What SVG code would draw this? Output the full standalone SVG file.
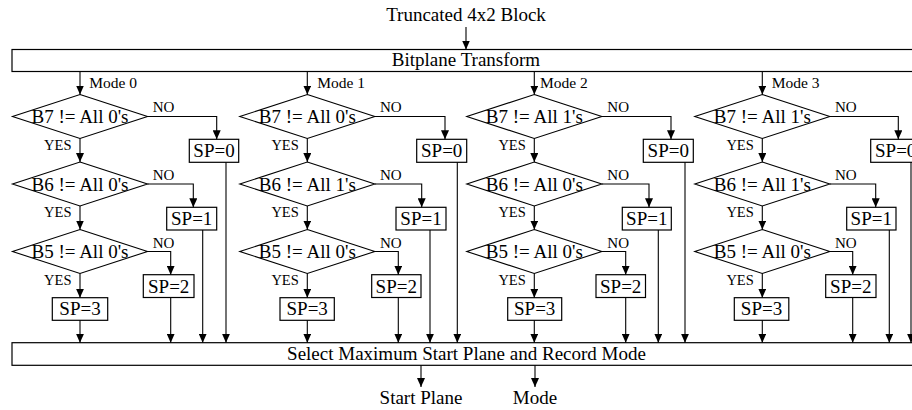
<svg xmlns="http://www.w3.org/2000/svg" width="912" height="410" viewBox="0 0 912 410">
  <defs>
    <marker id="arrow" markerUnits="userSpaceOnUse" markerWidth="9" markerHeight="8" viewBox="0 0 9 8" refX="9" refY="4" orient="auto">
      <path d="M0,0 L9,4 L0,8 z" fill="#000"/>
    </marker>
    <style>
      .box { fill: #fff; stroke: #000; stroke-width: 1.2; }
      .dia { fill: #fff; stroke: #000; stroke-width: 1.1; }
      .ln { fill: none; stroke: #000; stroke-width: 1.1; marker-end: url(#arrow); }
      text { font-family: "Liberation Serif", "Times New Roman", serif; fill: #000; }
      .big { font-size: 19px; text-anchor: middle; }
      .mode { font-size: 15.5px; }
      .no { font-size: 15px; }
      .yes { font-size: 14.5px; text-anchor: end; }
    </style>
  </defs>
  <rect width="912" height="410" fill="#fff"/>

  <!-- input and output labels -->
  <text class="big" x="466" y="21">Truncated 4x2 Block</text>
  <text class="big" x="421" y="404">Start Plane</text>
  <text class="big" x="535" y="404">Mode</text>

  <!-- shared stages -->
  <g id="bitplane-transform">
    <rect class="box" x="12" y="49.5" width="910" height="22"/>
    <text class="big" x="466" y="65.5">Bitplane Transform</text>
  </g>
  <g id="select-max">
    <rect class="box" x="12" y="342.7" width="910" height="22.6"/>
    <text class="big" x="466.5" y="359.5">Select Maximum Start Plane and Record Mode</text>
  </g>

  <!-- Mode 0 column -->
  <g id="m0-b7"><polygon class="dia" points="80,94.5 147.5,116.5 80,138.5 12.5,116.5"/><text class="big" x="80" y="123">B7 != All 0's</text></g>
  <g id="m0-b6"><polygon class="dia" points="80,162 147.5,184 80,206 12.5,184"/><text class="big" x="80" y="190.5">B6 != All 0's</text></g>
  <g id="m0-b5"><polygon class="dia" points="80,229.5 147.5,251.5 80,273.5 12.5,251.5"/><text class="big" x="80" y="258">B5 != All 0's</text></g>
  <g id="m0-sp0"><rect class="box" x="189.3" y="139.3" width="49.4" height="23"/><text class="big" x="214" y="157.3">SP=0</text></g>
  <g id="m0-sp1"><rect class="box" x="166.7" y="207.3" width="50" height="22.7"/><text class="big" x="191.7" y="225">SP=1</text></g>
  <g id="m0-sp2"><rect class="box" x="143.3" y="274.7" width="50.7" height="22.8"/><text class="big" x="168.7" y="292.5">SP=2</text></g>
  <g id="m0-sp3"><rect class="box" x="52.3" y="297.7" width="55.4" height="22.6"/><text class="big" x="80" y="315.3">SP=3</text></g>

  <!-- Mode 1 column -->
  <g id="m1-b7"><polygon class="dia" points="307.3,94.5 374.8,116.5 307.3,138.5 239.8,116.5"/><text class="big" x="307.3" y="123">B7 != All 0's</text></g>
  <g id="m1-b6"><polygon class="dia" points="307.3,162 374.8,184 307.3,206 239.8,184"/><text class="big" x="307.3" y="190.5">B6 != All 1's</text></g>
  <g id="m1-b5"><polygon class="dia" points="307.3,229.5 374.8,251.5 307.3,273.5 239.8,251.5"/><text class="big" x="307.3" y="258">B5 != All 0's</text></g>
  <g id="m1-sp0"><rect class="box" x="416.7" y="139.3" width="50" height="23"/><text class="big" x="441.7" y="157.3">SP=0</text></g>
  <g id="m1-sp1"><rect class="box" x="396" y="207.3" width="50" height="22.7"/><text class="big" x="421" y="225">SP=1</text></g>
  <g id="m1-sp2"><rect class="box" x="371.7" y="274.7" width="49.3" height="22.8"/><text class="big" x="396.3" y="292.5">SP=2</text></g>
  <g id="m1-sp3"><rect class="box" x="280" y="297.7" width="54.3" height="22.6"/><text class="big" x="307.2" y="315.3">SP=3</text></g>

  <!-- Mode 2 column -->
  <g id="m2-b7"><polygon class="dia" points="534.3,94.5 601.8,116.5 534.3,138.5 466.8,116.5"/><text class="big" x="534.3" y="123">B7 != All 1's</text></g>
  <g id="m2-b6"><polygon class="dia" points="534.3,162 601.8,184 534.3,206 466.8,184"/><text class="big" x="534.3" y="190.5">B6 != All 0's</text></g>
  <g id="m2-b5"><polygon class="dia" points="534.3,229.5 601.8,251.5 534.3,273.5 466.8,251.5"/><text class="big" x="534.3" y="258">B5 != All 0's</text></g>
  <g id="m2-sp0"><rect class="box" x="643.3" y="139.3" width="50" height="23"/><text class="big" x="668.3" y="157.3">SP=0</text></g>
  <g id="m2-sp1"><rect class="box" x="622.3" y="207.3" width="49" height="22.7"/><text class="big" x="646.8" y="225">SP=1</text></g>
  <g id="m2-sp2"><rect class="box" x="596" y="274.7" width="49.5" height="22.8"/><text class="big" x="620.7" y="292.5">SP=2</text></g>
  <g id="m2-sp3"><rect class="box" x="507.7" y="297.7" width="54" height="22.6"/><text class="big" x="534.7" y="315.3">SP=3</text></g>

  <!-- Mode 3 column -->
  <g id="m3-b7"><polygon class="dia" points="762.3,94.5 829.8,116.5 762.3,138.5 694.8,116.5"/><text class="big" x="762.3" y="123">B7 != All 1's</text></g>
  <g id="m3-b6"><polygon class="dia" points="762.3,162 829.8,184 762.3,206 694.8,184"/><text class="big" x="762.3" y="190.5">B6 != All 1's</text></g>
  <g id="m3-b5"><polygon class="dia" points="762.3,229.5 829.8,251.5 762.3,273.5 694.8,251.5"/><text class="big" x="762.3" y="258">B5 != All 0's</text></g>
  <g id="m3-sp0"><rect class="box" x="870.7" y="139.3" width="50" height="23"/><text class="big" x="895.7" y="157.3">SP=0</text></g>
  <g id="m3-sp1"><rect class="box" x="846.7" y="207.3" width="49.3" height="22.7"/><text class="big" x="871.3" y="225">SP=1</text></g>
  <g id="m3-sp2"><rect class="box" x="825.7" y="274.7" width="50.3" height="22.8"/><text class="big" x="850.8" y="292.5">SP=2</text></g>
  <g id="m3-sp3"><rect class="box" x="734.3" y="297.7" width="54.5" height="22.6"/><text class="big" x="761.5" y="315.3">SP=3</text></g>

  <!-- connectors -->
  <g id="connectors">
    <path class="ln" d="M466,27 V49.5"/>
    <path class="ln" d="M421,365.3 V387"/>
    <path class="ln" d="M535,365.3 V387"/>

    <!-- Mode 0 -->
    <path class="ln" d="M80,71.5 V94.5"/>
    <path class="ln" d="M80,138.5 V162"/>
    <path class="ln" d="M80,206 V229.5"/>
    <path class="ln" d="M80,273.5 V297.7"/>
    <path class="ln" d="M80,320.3 V342.7"/>
    <path class="ln" d="M147.5,116.5 H216.7 V139.3"/>
    <path class="ln" d="M147.5,184 H193.3 V207.3"/>
    <path class="ln" d="M147.5,251.5 H170.7 V274.7"/>
    <path class="ln" d="M226,162.3 V342.7"/>
    <path class="ln" d="M202.7,230 V342.7"/>
    <path class="ln" d="M170.7,297.5 V342.7"/>

    <!-- Mode 1 -->
    <path class="ln" d="M307.3,71.5 V94.5"/>
    <path class="ln" d="M307.3,138.5 V162"/>
    <path class="ln" d="M307.3,206 V229.5"/>
    <path class="ln" d="M307.3,273.5 V297.7"/>
    <path class="ln" d="M307.3,320.3 V342.7"/>
    <path class="ln" d="M374.8,116.5 H445 V139.3"/>
    <path class="ln" d="M374.8,184 H421.7 V207.3"/>
    <path class="ln" d="M374.8,251.5 H398.3 V274.7"/>
    <path class="ln" d="M457.3,162.3 V342.7"/>
    <path class="ln" d="M430,230 V342.7"/>
    <path class="ln" d="M398.3,297.5 V342.7"/>

    <!-- Mode 2 -->
    <path class="ln" d="M534.3,71.5 V94.5"/>
    <path class="ln" d="M534.3,138.5 V162"/>
    <path class="ln" d="M534.3,206 V229.5"/>
    <path class="ln" d="M534.3,273.5 V297.7"/>
    <path class="ln" d="M534.3,320.3 V342.7"/>
    <path class="ln" d="M601.8,116.5 H671 V139.3"/>
    <path class="ln" d="M601.8,184 H649 V207.3"/>
    <path class="ln" d="M601.8,251.5 H625.7 V274.7"/>
    <path class="ln" d="M685,162.3 V342.7"/>
    <path class="ln" d="M658.3,230 V342.7"/>
    <path class="ln" d="M625.7,297.5 V342.7"/>

    <!-- Mode 3 -->
    <path class="ln" d="M762.3,71.5 V94.5"/>
    <path class="ln" d="M762.3,138.5 V162"/>
    <path class="ln" d="M762.3,206 V229.5"/>
    <path class="ln" d="M762.3,273.5 V297.7"/>
    <path class="ln" d="M762.3,320.3 V342.7"/>
    <path class="ln" d="M829.8,116.5 H898.3 V139.3"/>
    <path class="ln" d="M829.8,184 H875.7 V207.3"/>
    <path class="ln" d="M829.8,251.5 H852.7 V274.7"/>
    <path class="ln" d="M911,162.3 V342.7"/>
    <path class="ln" d="M889.3,230 V342.7"/>
    <path class="ln" d="M852.7,297.5 V342.7"/>
  </g>

  <!-- branch labels -->
  <g id="labels">
    <text class="mode" x="89.3" y="88">Mode 0</text>
    <text class="mode" x="317.3" y="88">Mode 1</text>
    <text class="mode" x="540" y="88">Mode 2</text>
    <text class="mode" x="771.7" y="88">Mode 3</text>

    <text class="no" x="152.7" y="112.3">NO</text>
    <text class="no" x="152.7" y="180">NO</text>
    <text class="no" x="152.7" y="247.5">NO</text>
    <text class="no" x="380" y="112.3">NO</text>
    <text class="no" x="380" y="180">NO</text>
    <text class="no" x="380" y="247.5">NO</text>
    <text class="no" x="607.3" y="112.3">NO</text>
    <text class="no" x="607.3" y="180">NO</text>
    <text class="no" x="607.3" y="247.5">NO</text>
    <text class="no" x="835" y="112.3">NO</text>
    <text class="no" x="835" y="180">NO</text>
    <text class="no" x="835" y="247.5">NO</text>

    <text class="yes" x="71.5" y="150">YES</text>
    <text class="yes" x="71.5" y="217.3">YES</text>
    <text class="yes" x="71.5" y="284.5">YES</text>
    <text class="yes" x="298.8" y="150">YES</text>
    <text class="yes" x="298.8" y="217.3">YES</text>
    <text class="yes" x="298.8" y="284.5">YES</text>
    <text class="yes" x="525.8" y="150">YES</text>
    <text class="yes" x="525.8" y="217.3">YES</text>
    <text class="yes" x="525.8" y="284.5">YES</text>
    <text class="yes" x="753.8" y="150">YES</text>
    <text class="yes" x="753.8" y="217.3">YES</text>
    <text class="yes" x="753.8" y="284.5">YES</text>
  </g>
</svg>
